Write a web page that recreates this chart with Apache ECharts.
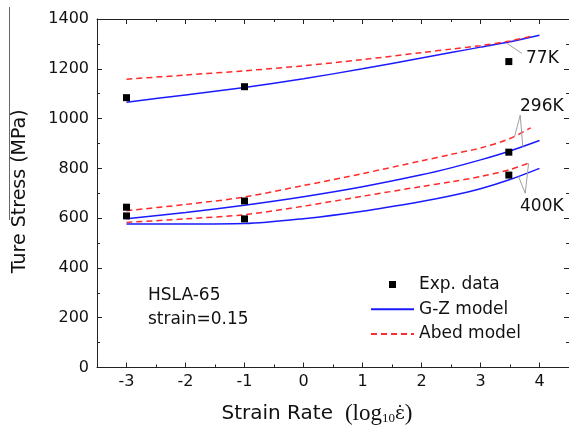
<!DOCTYPE html>
<html>
<head>
<meta charset="utf-8">
<script src="https://cdn.jsdelivr.net/npm/echarts@6/dist/echarts.min.js"></script>
<style>html,body{margin:0;padding:0;background:#fff}#c{width:569px;height:432px}</style>
</head>
<body>
<div id="c"></div>
<script>
// ---- data ----
const xMajorTicks = [-3, -2, -1, 0, 1, 2, 3, 4];
const strainRateGZ = [-3, -2, -1, 0, 1, 2, 2.5, 3, 3.5, 4];
const strainRateAbed = [-3, -2, -1, 0, 1, 2, 2.5, 3, 3.5, 3.85];
const gz77 = [1066, 1095, 1125, 1160, 1200, 1243, 1265, 1287, 1309, 1335];
const abed77 = [1158, 1175, 1192, 1212, 1237, 1265, 1279, 1293, 1312, 1330];
const gz296 = [598, 623, 652, 686, 726, 774, 802, 834, 870, 912];
const abed296 = [630, 655, 685, 731, 779, 830, 856, 882, 920, 963];
const gz400 = [576, 576, 578, 598, 628, 667, 690, 718, 755, 800];
const abed400 = [583, 597, 614, 648, 688, 727, 746, 767, 795, 824];
const expRate = [-3, -1, 3.48, -3, -1, 3.48, -3, -1, 3.48];
const expStress = [1084, 1128, 1229, 644, 669, 865, 609, 597, 773];
// leader lines of the temperature labels: [x1, y1, x2, y2] in data units
const leader77 = [3.45, 1302, 3.70, 1262];
const leader296a = [3.673, 1014, 3.577, 927];
const leader296b = [3.673, 1014, 3.717, 887];
const leader400a = [3.758, 700, 3.645, 767];
const leader400b = [3.758, 700, 3.815, 820];

const SANS = 'DejaVu Sans';
const AX = '#222';
const BLUE = '#1a1aff';
const RED = '#ff2a2a';

const zip = (xs, ys) => xs.map((x, i) => [x, ys[i]]);
const seg = a => [{ coord: [a[0], a[1]] }, { coord: [a[2], a[3]] }];

function gzSeries(vals) {
  return { name: 'G-Z model', type: 'line', data: zip(strainRateGZ, vals), symbol: 'none',
    smooth: 0.3, lineStyle: { color: BLUE, width: 1.5 }, itemStyle: { color: BLUE }, z: 3 };
}
function abedSeries(vals) {
  return { name: 'Abed model', type: 'line', data: zip(strainRateAbed, vals), symbol: 'none',
    smooth: 0.3, lineStyle: { color: RED, width: 1.5, type: [6, 4] }, itemStyle: { color: RED }, z: 3 };
}

const chart = echarts.init(document.getElementById('c'), null, { renderer: 'canvas' });
const xCommon = { type: 'value', min: -3.5, max: 4.5, splitLine: { show: false } };
const noZeroLine = { show: true, onZero: false, lineStyle: { color: AX, width: 1 } };
chart.setOption({
  animation: false,
  backgroundColor: '#fff',
  grid: { left: 97, top: 19, right: -2, bottom: 64.5, containLabel: false },
  xAxis: [
    Object.assign({}, xCommon, {
      position: 'bottom',
      axisLine: noZeroLine,
      axisTick: { show: true, inside: true, length: 5, customValues: xMajorTicks, lineStyle: { color: AX } },
      axisLabel: { show: true, customValues: xMajorTicks, margin: 6, fontSize: 16, fontFamily: SANS, color: '#111' }
    }),
    Object.assign({}, xCommon, {
      position: 'bottom', interval: 0.5,
      axisLine: { show: false, onZero: false },
      axisTick: { show: true, inside: true, length: 3, lineStyle: { color: AX } },
      axisLabel: { show: false }
    }),
    Object.assign({}, xCommon, {
      position: 'top',
      axisLine: noZeroLine,
      axisTick: { show: true, inside: true, length: 5, customValues: xMajorTicks, lineStyle: { color: AX } },
      axisLabel: { show: false }
    }),
    Object.assign({}, xCommon, {
      position: 'top', interval: 0.5,
      axisLine: { show: false, onZero: false },
      axisTick: { show: true, inside: true, length: 3, lineStyle: { color: AX } },
      axisLabel: { show: false }
    })
  ],
  yAxis: [
    {
      type: 'value', min: 0, max: 1400, interval: 200, position: 'left',
      name: 'Ture Stress (MPa)', nameLocation: 'middle', nameGap: 67, nameRotate: 90,
      nameTextStyle: { fontFamily: SANS, fontSize: 19, color: '#111', padding: [0, 0, 0, 4] },
      axisLine: noZeroLine,
      axisTick: { show: true, inside: true, length: 5, lineStyle: { color: AX } },
      minorTick: { show: true, splitNumber: 2, length: 3, lineStyle: { color: AX } },
      axisLabel: { margin: 8, fontSize: 16, fontFamily: SANS, color: '#111', formatter: v => String(v) },
      splitLine: { show: false }
    },
    {
      type: 'value', min: 0, max: 1400, interval: 200, position: 'right',
      axisLine: noZeroLine,
      axisTick: { show: true, inside: true, length: 5, lineStyle: { color: AX } },
      minorTick: { show: true, splitNumber: 2, length: 3, lineStyle: { color: AX } },
      axisLabel: { show: false },
      splitLine: { show: false }
    }
  ],
  legend: {
    left: 370, top: 274.5, orient: 'vertical', padding: 0,
    itemWidth: 43, itemHeight: 7, itemGap: 4.7,
    textStyle: { fontFamily: SANS, fontSize: 17, color: '#111', lineHeight: 20 },
    data: [
      { name: 'Exp. data', icon: 'path://M0,0M43,7M18,0h7v7h-7z', itemStyle: { color: '#000', opacity: 1 } },
      { name: 'G-Z model', itemStyle: { opacity: 0 } },
      { name: 'Abed model', itemStyle: { opacity: 0 } }
    ],
    selectedMode: false
  },
  series: [
    gzSeries(gz77), abedSeries(abed77),
    gzSeries(gz296), abedSeries(abed296),
    gzSeries(gz400), abedSeries(abed400),
    {
      name: 'Exp. data', type: 'scatter', data: zip(expRate, expStress),
      symbol: 'rect', symbolSize: 7, itemStyle: { color: '#000', opacity: 1 }, z: 5,
      markLine: {
        silent: true, symbol: ['none', 'none'], label: { show: false },
        lineStyle: { color: '#a0a0a0', width: 1, type: 'solid' },
        data: [seg(leader77), seg(leader296a), seg(leader296b), seg(leader400a), seg(leader400b)]
      }
    }
  ],
  graphic: [
    { type: 'line', shape: { x1: 9.5, y1: 7, x2: 9.5, y2: 220 }, style: { stroke: '#666', lineWidth: 1 }, silent: true },
    { type: 'text', x: 148, y: 296, style: { text: 'HSLA-65', fontFamily: SANS, fontSize: 17, fill: '#111', textVerticalAlign: 'middle' } },
    { type: 'text', x: 148, y: 319.5, style: { text: 'strain=0.15', fontFamily: SANS, fontSize: 17, fill: '#111', textVerticalAlign: 'middle' } },
    { type: 'text', x: 526, y: 59, style: { text: '77K', fontFamily: SANS, fontSize: 17, fill: '#111', textVerticalAlign: 'middle' } },
    { type: 'text', x: 520, y: 107, style: { text: '296K', fontFamily: SANS, fontSize: 17, fill: '#111', textVerticalAlign: 'middle' } },
    { type: 'text', x: 520, y: 207, style: { text: '400K', fontFamily: SANS, fontSize: 17, fill: '#111', textVerticalAlign: 'middle' } },
    {
      type: 'text', x: 317, y: 414,
      style: {
        text: '{a|Strain Rate}{b|(log}{c|10}{d|ε̇}{b|)}',
        textAlign: 'center', textVerticalAlign: 'middle', fill: '#111',
        rich: {
          a: { fontFamily: SANS, fontSize: 20, fill: '#111', padding: [0, 12, 0, 0] },
          b: { fontFamily: 'Liberation Serif', fontSize: 23, fill: '#111' },
          c: { fontFamily: 'Liberation Serif', fontSize: 13, fill: '#111', verticalAlign: 'bottom', padding: [10, 0, 0, 0] },
          d: { fontFamily: 'DejaVu Serif', fontSize: 19, fill: '#111' }
        }
      }
    }
  ]
});
</script>
</body>
</html>
